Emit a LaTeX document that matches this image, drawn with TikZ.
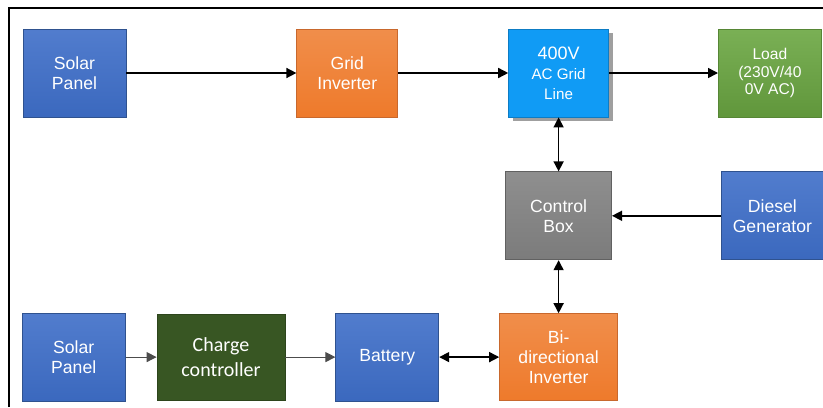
\documentclass[tikz,border=0pt]{standalone}
\usepackage{fontspec}
\setmainfont{Liberation Sans}
\newfontfamily\calfont{Carlito}
\usepackage{xcolor}
\usepackage{tikz}
\usetikzlibrary{arrows.meta, positioning, shadows}
\definecolor{pvblue}{RGB}{62,110,200}
\definecolor{pvline}{RGB}{47,82,143}
\definecolor{invorg}{RGB}{238,122,43}
\definecolor{invline}{RGB}{200,104,45}
\definecolor{gridsky}{RGB}{16,155,245}
\definecolor{loadgrn}{RGB}{107,167,66}
\definecolor{ctlgry}{RGB}{130,130,130}
\definecolor{ccgrn}{RGB}{56,86,35}

\begin{document}
\begin{tikzpicture}[x=0.5pt, y=-0.5pt,
          every node/.style={font=\fontsize{8.8}{10}\selectfont},
          b/.style={align=center, text=white, inner sep=1pt,
                    minimum width=51.5pt, minimum height=44pt},
          blu/.style={b, draw=pvline, top color=pvblue!90!white, bottom color=pvblue!95!black},
          org/.style={b, draw=invline, top color=invorg!85!white, bottom color=invorg},
          sky/.style={b, draw=gridsky!80!black, fill=gridsky,
                      drop shadow={shadow xshift=2pt, shadow yshift=-2pt, fill=gray!75, opacity=1}},
          grn/.style={b, draw=loadgrn!80!black, top color=loadgrn!90!white, bottom color=loadgrn!90!black},
          gry/.style={b, draw=ctlgry!75!black, top color=ctlgry!90!white, bottom color=ctlgry!95!black},
          dgr/.style={b, draw=ccgrn!80!black, fill=ccgrn},
          ar/.style={-{Triangle[length=5pt, width=5pt]}, line width=0.75pt},
          bar/.style={{Triangle[length=5pt, width=5pt]}-{Triangle[length=5pt, width=5pt]}, line width=0.75pt},
          thin/.style={-{Triangle[length=5pt, width=5pt]}, line width=0.5pt, draw=black!70}]
  \useasboundingbox (0,0) rectangle (823,407);
  \draw[line width=1pt] (9,407) -- (9,8) -- (823,8);
  % top row
  \node[blu] (sp1) at (74.5,73) {Solar\\Panel};
  \node[org, right=85pt of sp1, minimum width=50.5pt] (gi) {Grid\\Inverter};
  \node[sky, right=55pt of gi, minimum width=50pt] (gl)
       {{\fontsize{9}{11}\selectfont 400V}\\{\fontsize{7.6}{9.5}\selectfont AC Grid}\\{\fontsize{7.6}{9.5}\selectfont Line}};
  \node[grn, right=54.5pt of gl, font=\fontsize{7.8}{8.8}\selectfont] (ld) {Load\\(230V/40\\0V AC)};
  % middle row
  \node[gry, below=27pt of gl, minimum width=53pt] (cb) {Control\\Box};
  \node[blu, right=54.5pt of cb, minimum width=51pt] (dg) {Diesel\\Generator};
  % bottom row
  \node[org, below=26.5pt of cb, minimum width=59pt, minimum height=43.5pt] (bi) {Bi-\\directional\\Inverter};
  \node[blu, left=30pt of bi] (bat) {Battery};
  \node[dgr, left=25pt of bat, minimum width=64pt, minimum height=43pt,
        font=\calfont\fontsize{10}{12.5}\selectfont] (cc) {Charge\\controller};
  \node[blu, left=15.5pt of cc] (sp2) {Solar\\Panel};
  \draw[ar] (sp1) -- (gi); \draw[ar] (gi) -- (gl); \draw[ar] (gl) -- (ld);
  \draw[bar] (gl) -- (cb); \draw[ar] (dg) -- (cb); \draw[bar] (cb) -- (bi);
  \draw[thin] (sp2) -- (cc); \draw[thin] (cc) -- (bat);
  \draw[bar] (bat) -- (bi);
\end{tikzpicture}
\end{document}
